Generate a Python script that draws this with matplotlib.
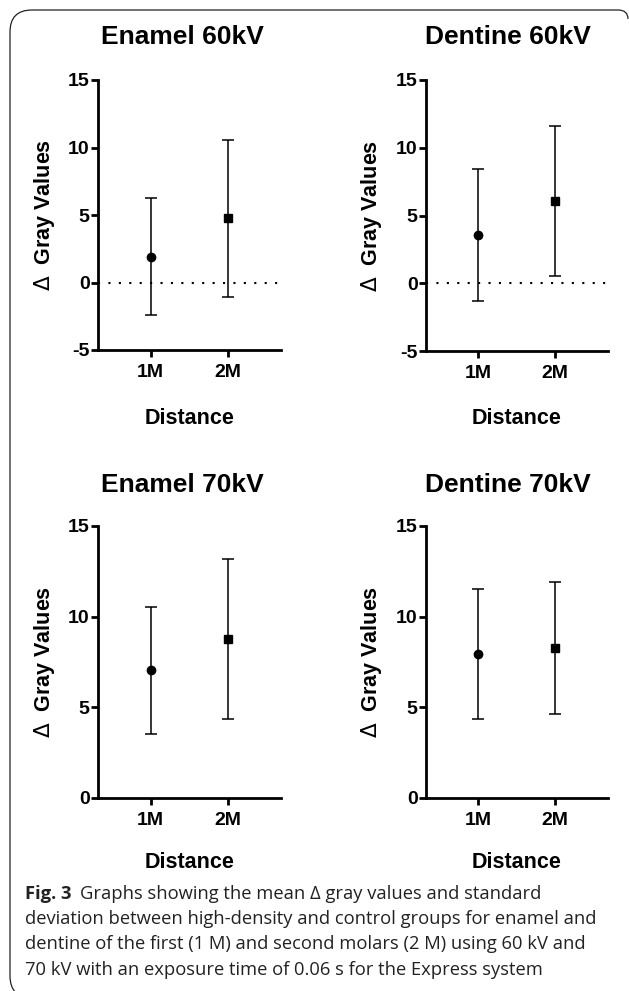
import matplotlib
matplotlib.use("Agg")
import matplotlib.pyplot as plt
from matplotlib.path import Path
from matplotlib.patches import PathPatch

W, H = 629, 991

groups = ["1M", "2M"]
titles = ["Enamel 60kV", "Dentine 60kV", "Enamel 70kV", "Dentine 70kV"]
means = [[1.91, 4.75], [3.56, 6.05], [7.05, 8.78], [7.94, 8.27]]
sds = [[4.35, 5.80], [4.90, 5.52], [3.50, 4.42], [3.60, 3.64]]
y_ticks_top = [-5, 0, 5, 10, 15]
y_ticks_bottom = [0, 5, 10, 15]

caption_bold = "Fig. 3"
caption_lines = [
    "Graphs showing the mean \u0394 gray values and standard",
    "deviation between high-density and control groups for enamel and",
    "dentine of the first (1 M) and second molars (2 M) using 60 kV and",
    "70 kV with an exposure time of 0.06 s for the Express system",
]

plt.rcParams["font.family"] = ["Liberation Sans", "DejaVu Sans"]
plt.rcParams["mathtext.fontset"] = "dejavusans"


def fx(x):
    return x / W


def fy(y):
    return 1 - y / H


fig = plt.figure(figsize=(W / 100, H / 100), dpi=100)

# axes boxes in pixels: left, right, top, bottom
boxes = [(98, 281, 80, 350), (426, 608, 80, 351),
         (98, 281, 526, 798), (426, 608, 526, 798)]
title_pos = [(182, 37), (508, 37), (182, 485), (508, 485)]
ylab_x = [45, 372, 45, 372]
xlab_y = [418, 418, 863, 863]

for i in range(4):
    l, r, t, b = boxes[i]
    ax = fig.add_axes([fx(l), fy(b), fx(r) - fx(l), fy(t) - fy(b)])
    xs = [1, 2]
    ax.errorbar(xs, means[i], yerr=sds[i], fmt="none", ecolor="black",
                elinewidth=1.1, capsize=4, capthick=1.1, zorder=2)
    ax.plot(xs[0], means[i][0], "o", color="black", ms=6, zorder=3)
    ax.plot(xs[1], means[i][1], "s", color="black", ms=6, zorder=3)
    if i < 2:
        ax.set_ylim(-5, 15)
        ax.set_yticks(y_ticks_top)
        ax.set_yticklabels([str(v) for v in y_ticks_top])
        ax.axhline(0, color="black", lw=1.5, ls=(0, (1, 4)), zorder=1)
    else:
        ax.set_ylim(0, 15)
        ax.set_yticks(y_ticks_bottom)
    ax.set_xlim(0.32, 2.69)
    ax.set_xticks(xs)
    ax.set_xticklabels(groups)
    for s in ["top", "right"]:
        ax.spines[s].set_visible(False)
    for s in ["left", "bottom"]:
        ax.spines[s].set_linewidth(2)
    ax.tick_params(width=2, length=5, direction="out", labelsize=14, pad=1)
    ax.tick_params(axis="x", pad=5)
    for lab in ax.get_xticklabels() + ax.get_yticklabels():
        lab.set_fontweight("bold")
    ax.patch.set_alpha(0)

    cx, cy = title_pos[i]
    fig.text(fx(cx), fy(cy), titles[i], ha="center", va="center",
             fontsize=19, fontweight="bold")
    fig.text(fx(ylab_x[i]), fy((t + b) / 2), r"$\mathrm{\Delta}$  Gray Values",
             rotation=90, ha="center", va="center", fontsize=15.5,
             fontweight="bold")
    fig.text(fx((l + r) / 2), fy(xlab_y[i]), "Distance", ha="center",
             va="center", fontsize=15.5, fontweight="bold")

# frame around the figure
pts = [(628, 19), (628, 10), (618, 10), (32, 10), (10, 10), (10, 32),
       (10, 976), (10, 987), (16, 993)]
codes = [Path.MOVETO, Path.CURVE3, Path.CURVE3, Path.LINETO, Path.CURVE3,
         Path.CURVE3, Path.LINETO, Path.CURVE3, Path.CURVE3]
frame = Path([(fx(x), fy(y)) for x, y in pts], codes)
fig.patches.append(PathPatch(frame, transform=fig.transFigure, fill=False,
                             lw=0.9, edgecolor="#222222"))

# caption
cap_font = ["Open Sans", "DejaVu Sans"]
cap_size = 13.2
line_y = [894, 919, 944, 970]
renderer = fig.canvas.get_renderer()
tb = fig.text(fx(25), fy(line_y[0]), caption_bold, ha="left", va="center",
              fontsize=cap_size, fontweight="bold", family=cap_font,
              color="#222222")
ext = tb.get_window_extent(renderer)
fig.text(fx(ext.x1 + 8), fy(line_y[0]), caption_lines[0], ha="left",
         va="center", fontsize=cap_size, family=cap_font, color="#222222")
for k in range(1, 4):
    fig.text(fx(25), fy(line_y[k]), caption_lines[k], ha="left", va="center",
             fontsize=cap_size, family=cap_font, color="#222222")

fig.savefig("out.png", dpi=100)
